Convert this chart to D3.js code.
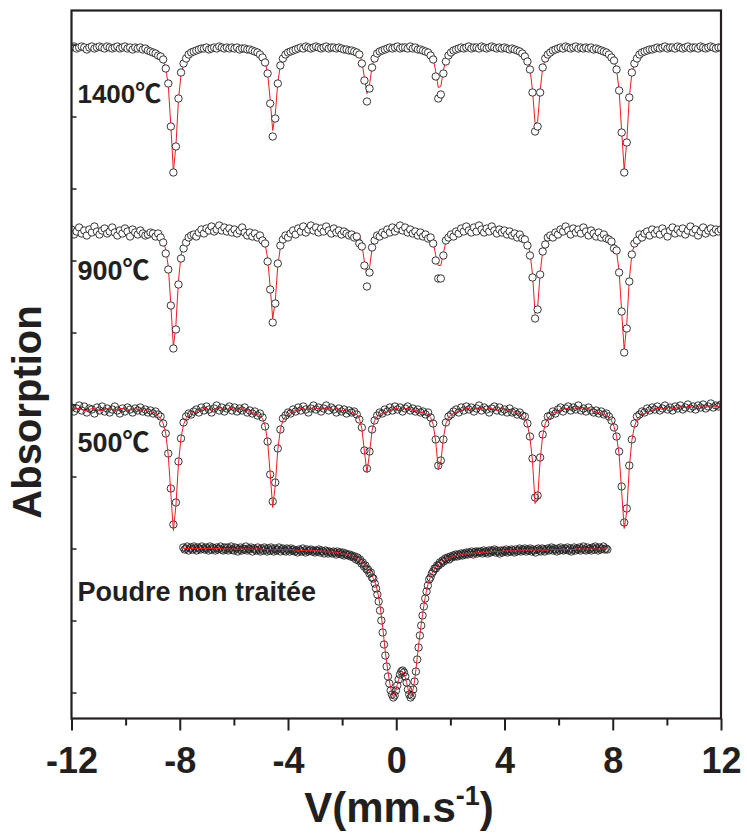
<!DOCTYPE html>
<html lang="fr">
<head>
<meta charset="utf-8">
<title>Spectres Mössbauer</title>
<script src="https://cdn.jsdelivr.net/npm/d3@7"></script>
<style>
body { margin: 0; background: #fff; }
text { font-family: "Liberation Sans", Arial, "Noto Sans CJK SC", sans-serif; font-weight: bold; fill: #231f20; }
</style>
</head>
<body>
<script>
// velocity sweep of each run (mm/s), first and last channel
var sextetVel = [-12, 12];
var poudreVel = [-7.87, 7.80];

var xTicks = [-12, -8, -4, 0, 4, 8, 12];
var xMinorTicks = [-10, -6, -2, 2, 6, 10];
var yTicks = [0, 72, 144, 216, 288, 360, 432, 504, 576, 648];

var labels = ["1400\u2103", "900\u2103", "500\u2103", "Poudre non trait\u00e9e"];

// absorption (a.u.) per channel
var counts1400 = [
645,646,644,645,646,645,643,645,646,644,645,646,645,644,646,645,
644,645,646,644,645,646,644,645,643,645,644,645,643,644,642,641,
640,639,637,636,633,624,609,566,520,546,594,620,629,634,638,640,
641,642,643,644,644,645,643,644,645,644,646,645,644,645,644,645,
644,645,643,644,644,643,643,642,641,640,638,635,630,619,589,556,
574,609,627,634,638,640,641,642,643,644,645,644,646,645,644,645,
646,645,644,645,646,644,645,645,644,645,644,643,643,642,642,641,
640,638,629,612,591,604,625,634,639,641,642,643,644,645,644,645,
646,644,645,645,644,646,644,645,643,643,642,641,640,637,633,616,
594,598,619,631,637,640,642,643,644,645,644,645,646,644,645,645,
644,646,645,644,645,646,645,644,645,644,645,644,643,644,643,642,
641,639,636,631,623,600,561,566,600,625,634,638,640,642,643,644,
645,644,646,645,644,645,646,644,645,644,645,644,645,643,644,643,
642,641,640,638,635,632,623,602,560,520,550,595,620,629,634,638,
640,641,642,643,643,644,645,644,645,646,644,645,645,644,646,645,
644,645,646,644,645,645,644,646,645,644,645,646,645,644,645,645];

var fit1400 = [
645,645,645,645,645,645,645,645,645,645,645,645,645,645,645,645,
645,645,645,645,645,645,644,644,644,643,643,643,642,642,641,640,
639,638,637,635,632,625,607,567,521,547,593,618,628,634,637,639,
641,642,642,643,643,644,644,644,644,644,644,644,644,644,644,644,
644,644,644,643,643,642,642,641,641,640,638,636,631,619,593,562,
578,610,627,634,637,639,641,642,642,643,643,644,644,645,645,645,
645,645,645,645,645,645,645,645,644,643,643,643,642,642,642,641,
641,639,631,615,599,608,626,635,639,641,642,642,643,643,643,644,
644,644,644,644,644,643,643,643,643,642,642,641,641,639,634,621,
605,606,622,633,638,640,641,642,642,643,643,644,644,644,645,645,
645,645,645,645,645,645,645,645,645,645,644,643,643,643,642,642,
641,640,637,633,624,602,569,571,602,625,633,637,640,641,642,642,
643,643,643,644,644,644,644,644,644,644,644,643,643,643,642,642,
641,641,640,639,636,632,623,602,561,522,551,595,619,629,634,637,
639,641,642,642,643,643,643,644,644,644,644,644,644,645,645,645,
645,645,645,645,645,645,645,645,645,645,645,645,645,645,645,645];

var counts900 = [
463,458,461,465,459,462,457,463,460,466,461,458,462,464,459,461,
465,460,457,462,459,464,461,456,463,460,458,462,459,457,458,460,
459,456,459,455,450,439,423,387,344,363,408,434,444,450,455,457,
458,456,460,463,459,464,462,466,461,463,467,462,465,461,464,460,
463,459,462,465,460,457,460,456,459,455,457,452,449,431,403,370,
389,429,447,453,457,455,459,462,458,464,461,466,460,463,467,462,
465,460,464,461,466,462,459,464,460,462,458,461,459,457,458,455,
456,449,446,427,406,420,445,452,457,456,460,458,463,460,465,461,
464,467,462,465,460,463,459,461,457,460,456,458,454,455,449,432,
414,414,437,452,455,458,456,461,459,464,461,466,462,460,465,461,
467,463,460,464,461,466,462,459,463,460,462,458,461,457,459,455,
458,454,453,447,437,415,374,383,418,441,448,455,457,455,460,458,
463,461,466,462,458,464,460,463,459,465,461,457,462,459,456,460,
455,458,454,453,451,444,442,420,381,340,364,411,438,449,452,458,
455,459,461,457,463,459,462,458,464,460,456,462,465,459,463,460,
464,458,462,466,460,463,457,461,465,459,462,464,460,463,461,463];

var fit900 = [
464,464,464,464,464,464,464,464,464,464,464,464,464,464,464,464,
464,464,464,464,464,464,463,463,463,462,462,462,461,461,460,459,
458,457,456,454,451,443,426,388,345,368,412,437,447,453,456,458,
460,461,461,462,462,463,463,463,463,463,463,463,463,463,463,463,
463,463,463,462,462,461,461,460,460,459,457,455,449,434,406,374,
391,427,445,452,456,458,460,461,461,462,462,463,463,464,464,464,
464,464,464,464,464,464,464,464,463,462,462,462,461,461,461,460,
459,457,448,431,417,424,444,453,457,459,460,461,461,462,462,463,
463,463,463,463,463,463,463,463,462,461,461,460,459,457,451,437,
427,427,439,451,456,459,460,461,461,462,462,463,463,463,464,464,
464,464,464,464,464,464,464,464,464,464,463,462,462,462,461,461,
460,458,456,450,440,418,379,385,419,442,451,456,458,460,461,461,
462,462,462,463,463,463,463,463,463,463,463,462,462,462,461,461,
460,460,459,457,454,450,441,421,381,342,368,413,438,448,453,456,
458,460,461,461,462,462,462,463,463,463,463,463,463,464,464,464,
464,464,464,464,464,464,464,464,464,464,464,464,464,464,464,464];

var counts500 = [
285,281,284,287,282,286,280,284,283,279,285,282,286,281,284,280,
283,286,282,279,284,281,285,283,280,284,282,285,281,283,280,282,
279,281,278,276,269,259,239,204,168,190,231,254,270,276,279,278,
281,283,280,285,282,286,283,280,284,287,282,285,281,284,286,282,
285,281,284,282,285,280,282,279,281,277,279,275,266,251,218,191,
210,244,263,274,277,280,279,283,281,285,282,286,283,280,284,287,
283,285,281,284,287,282,285,283,280,284,281,283,279,282,280,281,
278,273,265,242,224,241,263,272,277,280,279,283,281,285,282,286,
283,285,281,284,286,282,284,281,283,280,281,278,280,275,269,253,
227,232,253,270,276,278,281,283,280,285,282,286,283,285,281,284,
287,282,285,283,280,284,286,282,285,281,283,280,284,280,281,278,
280,277,276,269,256,234,195,197,235,258,269,276,277,281,279,283,
285,281,284,286,282,285,283,287,282,284,281,285,282,280,282,279,
281,278,279,276,272,265,256,241,206,170,184,227,253,269,276,278,
281,280,284,282,285,283,286,282,284,287,283,285,282,286,284,287,
283,285,288,284,286,283,287,285,288,284,286,289,285,287,286,288];

var fit500 = [
283,283,284,284,283,282,282,283,284,284,283,282,282,283,284,283,
283,282,283,284,284,283,282,283,283,284,283,282,283,282,281,281,
280,279,277,274,269,259,237,199,162,187,229,255,268,274,277,279,
280,281,282,283,284,284,283,282,283,284,285,284,283,283,284,284,
283,282,283,284,283,282,281,280,279,278,277,274,267,251,219,185,
207,243,263,272,276,278,280,281,282,283,284,284,283,283,284,285,
284,284,283,284,285,284,283,283,284,283,282,282,281,281,280,279,
278,274,264,241,220,239,262,272,276,278,279,280,281,282,283,284,
284,283,283,284,284,283,282,282,281,280,280,279,278,275,268,251,
223,230,254,269,275,278,279,280,281,282,283,284,284,283,283,284,
285,284,283,283,284,284,283,282,283,284,283,282,281,281,280,279,
278,277,274,268,255,231,189,193,233,257,269,274,277,279,280,281,
282,283,284,284,283,283,284,285,284,283,283,284,283,281,280,280,
279,278,277,275,272,266,256,238,201,164,181,225,252,266,273,276,
278,279,280,281,282,283,284,284,283,284,285,285,284,284,285,286,
285,285,286,286,285,285,286,287,286,285,286,287,287,286,286,287];

var countsPoudre = [
145,143,144,146,142,144,145,143,146,144,142,145,144,143,146,144,
143,145,144,142,146,143,145,144,142,145,143,144,146,143,142,145,
143,145,142,144,146,143,142,145,144,141,143,145,142,144,143,146,
142,144,143,145,141,144,143,142,145,143,141,144,142,145,143,141,
144,142,145,143,141,144,142,143,145,141,143,144,142,141,144,143,
141,144,142,143,141,142,140,143,142,141,144,142,140,143,141,142,
143,141,142,140,142,141,143,140,142,141,139,142,141,139,141,140,
139,141,140,138,141,139,140,138,140,137,139,138,137,138,136,137,
135,136,133,135,132,133,129,130,126,127,123,123,119,120,115,114,
109,104,98,91,82,72,60,48,37,26,16,9,2,-2,-5,-3,
2,7,13,18,21,22,20,16,10,3,-2,-5,-3,3,11,21,
33,45,57,67,77,86,94,101,107,113,115,119,121,124,124,127,
127,130,129,132,131,134,133,135,133,136,135,137,136,138,136,138,
137,139,137,139,138,140,138,140,139,141,138,140,141,139,141,140,
141,139,142,140,141,139,142,140,142,141,143,140,142,141,139,142,
140,142,141,143,140,142,141,143,142,140,143,141,142,144,141,143,
142,144,141,143,142,144,141,143,142,140,143,144,142,141,144,143,
141,143,144,142,143,145,142,144,143,141,144,142,145,143,142,144,
143,145,142,144,141,143,145,142,144,143,145,142,144,146,143,142,
145,143,144,142,145,143,146,144,142,145,143,144,146,143,144,143];

var fitPoudre = [
144,144,144,144,144,144,144,144,144,144,144,144,144,144,144,144,
144,144,144,144,144,144,144,144,144,144,144,144,144,144,143.5,143.5,
143.5,143.5,143.5,143.5,143.5,143.5,143.5,143.5,143.5,143.5,143.5,143.5,143.5,143.5,143.5,143.5,
143.5,143.5,143.5,143.5,143.5,143.5,143.5,143.5,143.5,143.5,143.5,143.5,143,143,143,143,
143,143,143,143,143,143,143,143,143,143,143,143,143,143,143,143,
143,143,143,143,143,142,142,142,142,142,142,142,142,142,142,142,
142,142,142,142,141.5,141.5,141.5,141.5,141.5,141.5,141.5,141.5,140.5,140.5,140.5,140.5,
140.5,140.5,140.5,140,140,140,140,139,139,139,138.3,138.3,138.3,137.5,137,136.5,
136,135,134.5,134,133,132,130.5,129.5,128,126.5,125,122.5,121,119,117,114,
111,107,102,95,87,77,65,53,41,30,21,12,5,-1,-4,-2,
3,8,13,17,19,20,19,15,10,4,-1,-4,-2,4,12,23,
35,47,58,68,78,87,95,102,108,112,116,119,121.5,123.5,125,126.5,
128,129,130,131,132,132.7,133.3,134,134.5,135,135.5,136,136.3,136.6,137,137.3,
137.6,137.8,138,138.2,138.4,138.6,138.8,139,139.1,139.2,139.3,139.4,139.5,139.6,139.7,139.8,
139.9,140,140.1,140.2,140.3,140.4,140.5,141,141,141,141,141,141,141,141,141,
141,141.7,141.7,141.7,141.7,141.7,141.7,141.7,141.7,141.7,141.7,141.7,141.7,141.7,141.7,141.7,
142.4,142.4,142.4,142.4,142.4,142.4,142.4,142.4,142.4,142.4,142.4,142.4,142.4,142.4,142.4,142.4,
142.4,142.4,142.4,142.4,143,143,143,143,143,143,143,143,143,143,143,143,
143,143,143,143,143,143,143,143,143.5,143.5,143.5,143.5,143.5,143.5,143.5,143.5,
143.5,143.5,143.5,143.5,143.5,143.5,143.5,143.5,143.5,143.5,143.5,143.5,143.5,143.5,143.5,143.5];

// where the labels sit (velocity, absorption)
var labelAt = [[-11.78, 590], [-11.78, 413], [-11.78, 241], [-11.78, 92]];
var labelSize = [26, 27, 27, 27];

var spectra = [
	{counts: counts1400, fit: fit1400, vel: sextetVel, fill: "#fff", fitOnTop: false},
	{counts: counts900, fit: fit900, vel: sextetVel, fill: "#fff", fitOnTop: false},
	{counts: counts500, fit: fit500, vel: sextetVel, fill: "none", fitOnTop: true},
	{counts: countsPoudre, fit: fitPoudre, vel: poudreVel, fill: "none", fitOnTop: true}
];

var w = 747, h = 834;
var padL = 71.5, padR = 721, padT = 10.5, padB = 718.5;
var ink = "#231f20", red = "#ed1c24";

var svg = d3.select("body").append("svg")
	.attr("width", w)
	.attr("height", h);

var x = d3.scaleLinear().domain([-12, 12]).range([padL, padR]);
var y = d3.scaleLinear().domain([-26, 682]).range([padB, padT]);

svg.append("clipPath").attr("id", "plot")
	.append("rect")
	.attr("x", padL).attr("y", padT)
	.attr("width", padR - padL).attr("height", padB - padT);

var area = svg.append("g").attr("clip-path", "url(#plot)");

spectra.forEach(function(s) {
	var chan = d3.scaleLinear().domain([0, s.counts.length - 1]).range(s.vel);
	var line = d3.line()
		.x(function(d, i) { return x(chan(i)); })
		.y(function(d) { return y(d); });

	var g = area.append("g");
	var drawFit = function() {
		g.append("path")
			.datum(s.fit)
			.attr("d", line)
			.attr("fill", "none")
			.attr("stroke", red)
			.attr("stroke-width", 1);
	};
	if (!s.fitOnTop) drawFit();

	g.selectAll("circle")
		.data(s.counts)
		.enter()
		.append("circle")
		.attr("cx", function(d, i) { return x(chan(i)); })
		.attr("cy", function(d) { return y(d); })
		.attr("r", 3.7)
		.attr("fill", s.fill)
		.attr("stroke", ink)
		.attr("stroke-width", 0.9);

	if (s.fitOnTop) drawFit();
});

// x axis, major and minor ticks pointing out
var xAxis = d3.axisBottom(x)
	.tickValues(xTicks)
	.tickSize(12)
	.tickFormat(function(d) { return String(d); });

var gx = svg.append("g")
	.attr("transform", "translate(0," + padB + ")")
	.call(xAxis);
gx.select(".domain").remove();
gx.selectAll(".tick line").attr("stroke", ink).attr("stroke-width", 2);
gx.selectAll(".tick text")
	.attr("y", 29)
	.attr("dy", "0.71em")
	.style("font-size", "36px");

var gxMinor = svg.append("g")
	.attr("transform", "translate(0," + padB + ")")
	.call(d3.axisBottom(x).tickValues(xMinorTicks).tickSize(7).tickFormat(""));
gxMinor.select(".domain").remove();
gxMinor.selectAll(".tick line").attr("stroke", ink).attr("stroke-width", 2);

// y axis, ticks inside, no labels
var gy = svg.append("g")
	.attr("transform", "translate(" + padL + ",0)")
	.call(d3.axisLeft(y).tickValues(yTicks).tickSize(-5).tickFormat(""));
gy.select(".domain").remove();
gy.selectAll(".tick line").attr("stroke", ink).attr("stroke-width", 1.5);

// frame
svg.append("rect")
	.attr("x", padL).attr("y", padT)
	.attr("width", padR - padL).attr("height", padB - padT)
	.attr("fill", "none")
	.attr("stroke", ink)
	.attr("stroke-width", 2.2);

// sample labels
svg.selectAll("text.sample")
	.data(labels)
	.enter()
	.append("text")
	.attr("class", "sample")
	.attr("x", function(d, i) { return x(labelAt[i][0]); })
	.attr("y", function(d, i) { return y(labelAt[i][1]); })
	.style("font-size", function(d, i) { return labelSize[i] + "px"; })
	.text(function(d) { return d; });

// axis titles
var xt = svg.append("text")
	.attr("x", 399)
	.attr("y", 822)
	.attr("text-anchor", "middle")
	.style("font-size", "42px");
xt.append("tspan").text("V(mm.s");
xt.append("tspan").attr("dy", -17).style("font-size", "27px").text("-1");
xt.append("tspan").attr("dy", 17).text(")");

svg.append("text")
	.attr("transform", "translate(41,412) rotate(-90)")
	.attr("text-anchor", "middle")
	.style("font-size", "40px")
	.text("Absorption");
</script>
</body>
</html>
